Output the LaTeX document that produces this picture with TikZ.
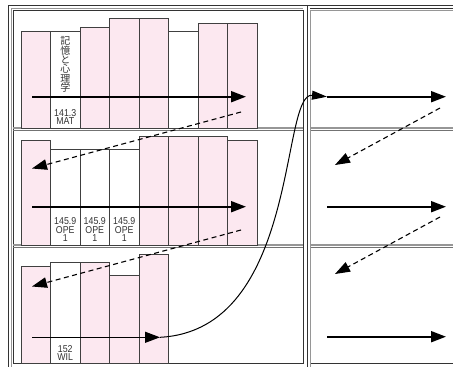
\documentclass[tikz,border=0pt]{standalone}
\usepackage{fontspec}
\setmainfont{Liberation Sans}
\newfontfamily\jpfont{Noto Sans CJK JP}
\newfontfamily\callfont[FakeStretch=0.88]{Liberation Sans}
\usetikzlibrary{arrows.meta,positioning}
\definecolor{shelfpink}{RGB}{252,232,240}
\definecolor{framegray}{RGB}{150,150,150}
\tikzset{
  book/.style={draw=black!75, line width=0.7pt, anchor=south west, minimum width=29.5pt, inner sep=0pt, outer sep=0pt},
  pinkbook/.style={book, fill=shelfpink},
  whitebook/.style={book, fill=white},
  callno/.style={font=\callfont\fontsize{10}{8.8}\selectfont, text=black!80, align=center, inner sep=0pt},
  frameline/.style={draw=black!80, line width=0.8pt},
  shadeline/.style={draw=framegray, line width=1.3pt},
  runarrow/.style={line width=1.9pt, -{Triangle[length=15pt,width=11pt]}},
  backarrow/.style={line width=1.1pt, dash pattern=on 5pt off 3.5pt, -{Triangle[length=15pt,width=10.5pt]}}
}
\begin{document}
\begin{tikzpicture}[x=1pt,y=-1pt]
\useasboundingbox (0,0) rectangle (453,367);
% frames
\draw[frameline] (8,367) -- (8,5) -- (453,5);
\draw[shadeline] (11.5,367) -- (11.5,8.5) -- (303,8.5);
\draw[frameline] (13,363) rectangle (303,10);
\draw[frameline] (307,5) -- (307,367);
\draw[frameline] (310,8.5) -- (453,8.5);
\draw[shadeline] (310.5,367) -- (310.5,10.5) -- (453,10.5);
\draw[frameline] (311,363) -- (453,363);
% shelf boards
\draw[shadeline] (13,128) -- (303,128) (311,128) -- (453,128);
\draw[draw=black!55, line width=0.9pt] (13,130.5) -- (303,130.5) (311,130.5) -- (453,130.5);
\draw[shadeline] (13,245) -- (303,245) (311,245) -- (453,245);
\draw[draw=black!55, line width=0.9pt] (13,247.5) -- (303,247.5) (311,247.5) -- (453,247.5);

% shelf 1
\node[pinkbook, minimum height=96.3pt] (a1) at (21,128) {};
\node[whitebook, minimum height=96.3pt] (a2) at (50.5,128) {};
\node[pinkbook, minimum height=100.7pt] (a3) at (80,128) {};
\node[pinkbook, minimum height=109.3pt] (a4) at (109.5,128) {};
\node[pinkbook, minimum height=109.3pt] (a5) at (139,128) {};
\node[whitebook, minimum height=96.3pt] (a6) at (168.5,128) {};
\node[pinkbook, minimum height=105pt] (a7) at (198,128) {};
\node[pinkbook, minimum height=105pt] (a8) at (227.5,128) {};
\node[font=\jpfont\fontsize{10}{9.3}\selectfont, text=black!80, align=center, inner sep=0pt] (t2) at (65.3,64.5) {記\\憶\\と\\心\\理\\学};
\node[callno, above=3pt of a2.south] (n2) {141.3\\MAT};

% shelf 2
\node[pinkbook, minimum height=104.3pt] (b1) at (21,245) {};
\node[whitebook, minimum height=95.7pt] (b2) at (50.5,245) {};
\node[whitebook, minimum height=95.7pt] (b3) at (80,245) {};
\node[whitebook, minimum height=95.7pt] (b4) at (109.5,245) {};
\node[pinkbook, minimum height=108.3pt] (b5) at (139,245) {};
\node[pinkbook, minimum height=108.3pt] (b6) at (168.5,245) {};
\node[pinkbook, minimum height=108.3pt] (b7) at (198,245) {};
\node[pinkbook, minimum height=104.3pt] (b8) at (227.5,245) {};
\node[callno, above=3pt of b2.south] (m2) {145.9\\OPE\\1};
\node[callno, above=3pt of b3.south] (m3) {145.9\\OPE\\1};
\node[callno, above=3pt of b4.south] (m4) {145.9\\OPE\\1};

% shelf 3
\node[pinkbook, minimum height=96.3pt] (c1) at (21,363) {};
\node[whitebook, minimum height=100.3pt] (c2) at (50.5,363) {};
\node[pinkbook, minimum height=100.3pt] (c3) at (80,363) {};
\node[pinkbook, minimum height=87.3pt] (c4) at (109.5,363) {};
\node[pinkbook, minimum height=109pt] (c5) at (139,363) {};
\node[callno, above=2pt of c2.south] (k2) {152\\WIL};

% arrow ends
\coordinate (L1) at (32,96.7);   \coordinate (L1') at (246,96.7);
\coordinate (L2) at (32,206.7);  \coordinate (L2') at (246,206.7);
\coordinate (L3) at (32,337.3);  \coordinate (L3') at (160,337.3);
\coordinate (D1) at (241,112);   \coordinate (D1') at (32,168.5);
\coordinate (D2) at (241,230);   \coordinate (D2') at (32,286.5);
\coordinate (R1) at (327,96.7);  \coordinate (R1') at (446,96.7);
\coordinate (R2) at (327,206.7); \coordinate (R2') at (446,206.7);
\coordinate (R3) at (327,336.7); \coordinate (R3') at (446,336.7);
\coordinate (E1) at (440,108);   \coordinate (E1') at (335,165);
\coordinate (E2) at (440,217);   \coordinate (E2') at (335,274);

\path[runarrow]
(L1) edge (L1')
(L2) edge (L2')
(R1) edge (R1')
(R2) edge (R2')
(R3) edge (R3');
\draw[runarrow, line width=1.2pt] (L3) -- (L3');
\path[backarrow]
(D1) edge (D1')
(D2) edge (D2')
(E1) edge (E1')
(E2) edge (E2');
\draw[line width=1pt, -{Triangle[length=15pt,width=9pt]}] (L3') .. controls (300,330) and (280,92) .. (R1);
\end{tikzpicture}
\end{document}
